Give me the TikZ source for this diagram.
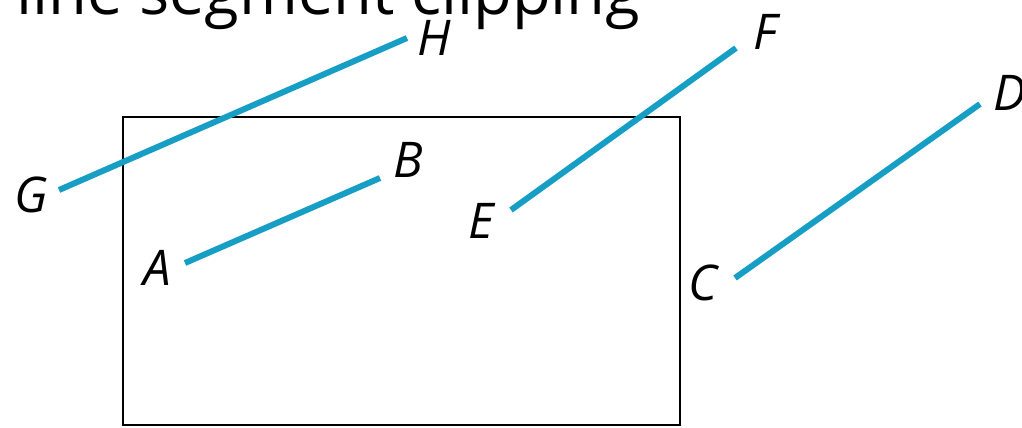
\documentclass[tikz,border=0pt]{standalone}
\usepackage{fontspec}
\setmainfont{Open Sans}
\begin{document}
\begin{tikzpicture}[
    x=0.02cm, y=-0.02cm,
    seg/.style={line width=3.4pt, draw=segblue, line cap=butt},
    box/.style={line width=1.4pt},
    lab/.style={font=\fontsize{28}{30}\selectfont\itshape, inner sep=0pt},
    title/.style={font=\fontsize{36}{40}\selectfont, inner sep=0pt, anchor=base west}
  ]
  \definecolor{segblue}{RGB}{22,158,196}

  \clip (0,0) rectangle (1022,427);

  %% ---- Title ----
  \node[title] (ttl) at (16,14) {line segment clipping};

  %% ---- Clip window ----
  \draw[box] (123,117) rectangle (680,425);

  % End points of the segments
  \coordinate (A) at (185,263);
  \coordinate (B) at (380,178);
  \coordinate (C) at (735,278);
  \coordinate (D) at (980,104);
  \coordinate (E) at (511,210);
  \coordinate (F) at (736,48);
  \coordinate (G) at (59,190);
  \coordinate (H) at (407,38);

  % Segments
  \draw[seg] (A) -- (B);
  \draw[seg] (C) -- (D);
  \draw[seg] (E) -- (F);
  \draw[seg] (G) -- (H);

  % Labels
  \node[lab] (lA) at (157,268) {A};
  \node[lab] (lB) at (408,160) {B};
  \node[lab] (lC) at (703,283) {C};
  \node[lab] (lD) at (1010,93) {D};
  \node[lab] (lE) at (481,221) {E};
  \node[lab] (lF) at (765,32) {F};
  \node[lab] (lG) at (31,195) {G};
  \node[lab] (lH) at (434,38) {H};

\end{tikzpicture}
\end{document}
